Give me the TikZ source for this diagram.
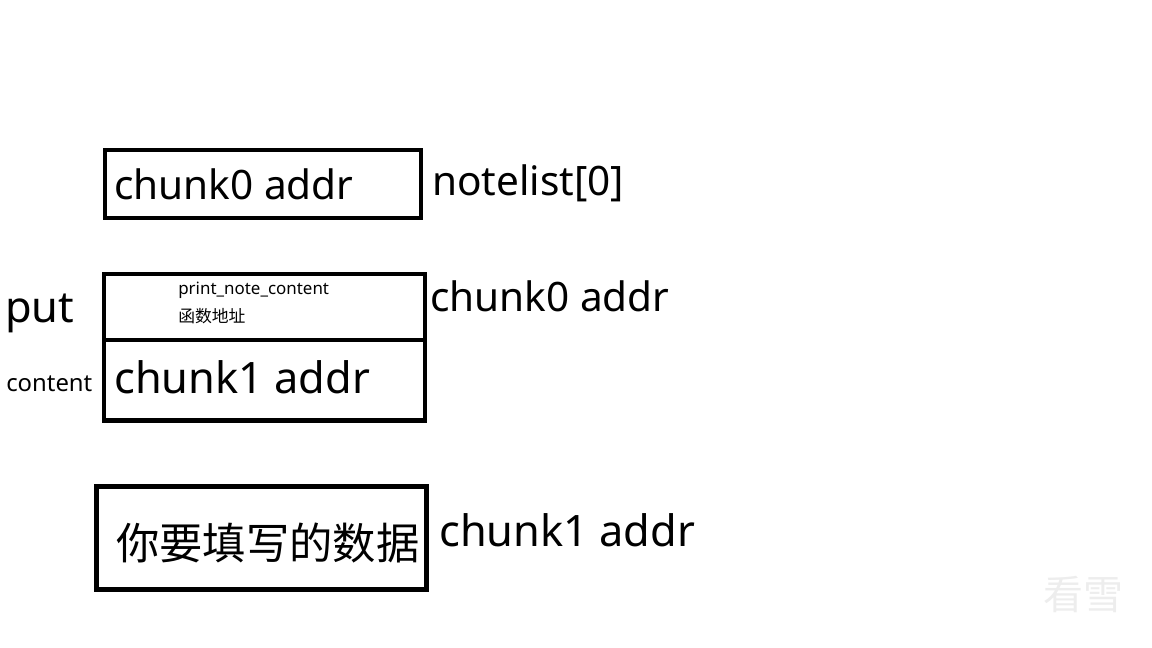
\documentclass[tikz,border=0pt]{standalone}
\usepackage{fontspec}
\setmainfont{Noto Sans}
\newfontfamily\cjk{Noto Sans CJK SC}
\tikzset{
  memb/.style={draw=black, line width=3.4pt},
  lbl/.style={inner sep=0pt, anchor=base west, text=black},
  fbig/.style={font=\fontsize{30.4pt}{36pt}\selectfont},
  fbigger/.style={font=\fontsize{32.5pt}{38pt}\selectfont},
  fmid/.style={font=\fontsize{17.9pt}{22pt}\selectfont},
  fsmall/.style={font=\fontsize{12.7pt}{15pt}\selectfont},
  fcjksmall/.style={font=\cjk\fontsize{12.6pt}{15pt}\selectfont},
  fcjkbig/.style={font=\cjk\fontsize{32.5pt}{38pt}\selectfont},
}
\begin{document}
\begin{tikzpicture}[x=0.75pt, y=-0.75pt]
\useasboundingbox (0,0) rectangle (1152,648);
% boxes
\draw[memb] (105,150) rectangle (421,218);
\draw[memb] (104,274) rectangle (425,420.5);
\draw[memb] (104,340) -- (425,340);
\draw[memb] (96.5,486.5) rectangle (426.5,589.5);
% texts
\node[lbl, fbig] (c0in) at (114,200) {chunk0 addr};
\node[lbl, fbig] (nl) at (432,196) {notelist[0]};
\node[lbl, fsmall] (pnc) at (178,295) {print\_note\_content};
\node[lbl, fcjksmall] (fa) at (178,323) {函数地址};
\node[lbl, fbigger] (c1in) at (114,393) {chunk1 addr};
\node[lbl, fbig] (c0out) at (430,312) {chunk0 addr};
\node[lbl, fbigger] (put) at (5,323) {put};
\node[lbl, fmid] (cont) at (6,391) {content};
\node[lbl, fcjkbig] (data) at (116,559) {你要填写的数据};
\node[lbl, fbigger] (c1out) at (439,546) {chunk1 addr};
% watermark
\node[lbl, font=\cjk\fontsize{30pt}{34pt}\selectfont, text=black!7] (wm) at (1043,609) {看雪};
\end{tikzpicture}
\end{document}
